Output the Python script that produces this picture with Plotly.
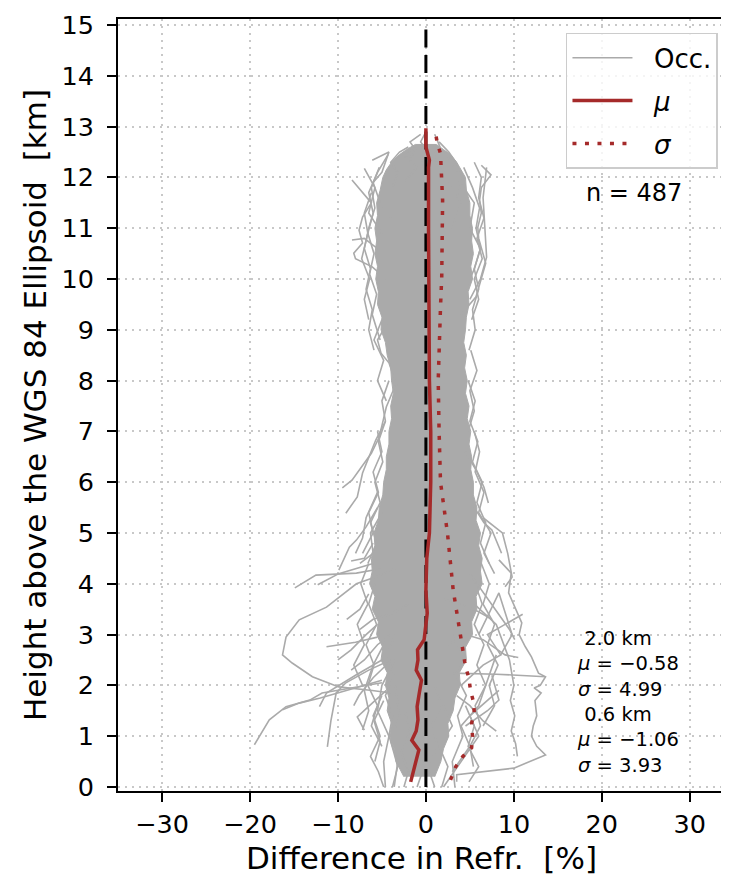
import plotly.graph_objects as go

# ---------------- data ----------------
# dense core of the occultation cloud (left / right envelope per height)
CORE_Y = [0.2, 0.5, 0.75, 1.0, 1.25, 1.5, 1.75, 2.0, 2.25, 2.5, 2.75, 3.0, 3.25, 3.5, 3.75, 4.0,
          4.25, 4.5, 4.75, 5.0, 5.25, 5.5, 5.75, 6.0, 6.25, 6.5, 6.75, 7.0, 7.25, 7.5, 7.75, 8.0,
          8.25, 8.5, 8.75, 9.0, 9.25, 9.5, 9.75, 10.0, 10.25, 10.5, 10.75, 11.0, 11.25, 11.5,
          11.75, 12.0, 12.15, 12.3, 12.45, 12.55, 12.65]
CORE_LEFT = [-2.5, -3.4, -3.6, -4.1, -3.9, -4.4, -4.2, -4.6, -4.4, -5.1, -4.9, -5.6, -5.4, -6.1, -5.8, -6.4,
             -6.1, -6.2, -5.8, -5.9, -5.4, -5.3, -4.9, -4.8, -4.5, -4.5, -4.2, -4.2, -3.9, -4.0, -3.7, -3.9,
             -4.0, -4.4, -4.6, -5.1, -5.0, -5.5, -5.4, -5.7, -5.5, -5.8, -5.6, -5.8, -5.5, -5.6,
             -5.2, -4.9, -4.5, -3.9, -3.0, -2.2, -1.2]
CORE_RIGHT = [1.0, 1.7, 2.0, 2.6, 2.5, 3.1, 3.3, 3.9, 3.8, 4.6, 4.5, 5.3, 5.2, 5.8, 5.7, 6.4,
              6.2, 6.4, 6.0, 6.2, 5.7, 5.8, 5.4, 5.4, 5.1, 5.2, 4.9, 5.1, 4.7, 4.9, 4.5, 4.7,
              4.4, 4.6, 4.3, 4.5, 4.6, 4.9, 4.8, 5.3, 5.1, 5.4, 5.2, 5.3, 5.0, 5.0,
              4.6, 4.5, 4.0, 3.5, 2.8, 2.0, 1.2]

# individual occultation profiles visible around the core: (x values, heights)
OCC_LINES = [
    ([-19.5, -17.8, -15.9, -13.2, -11.8, -9.9, -7.5, -5.0], [0.83, 1.32, 1.58, 1.71, 1.85, 1.91, 1.98, 2.05]),
    ([-3.5, -5.5, -7.9, -11.3, -14.4, -15.9, -16.3, -15.2, -12.9, -9.9, -6.1, -4.0],
     [4.3, 4.15, 4.0, 3.54, 3.29, 2.95, 2.6, 2.44, 2.17, 1.97, 1.9, 1.85]),
    ([-14.9, -12.5, -7.9, -5.0], [3.92, 4.17, 4.21, 4.3]),
    ([-12.3, -9.9, -6.0], [3.98, 4.2, 4.4]),
    ([-11.2, -10.8, -10.2, -9.1, -6.5, -4.0], [0.79, 1.3, 1.85, 2.05, 2.3, 2.5]),
    ([-12.1, -11.3, -8.0, -5.0], [1.58, 1.85, 2.2, 2.5]),
    ([-16.3, -14.4, -12.0, -8.0, -5.0], [1.52, 1.65, 1.75, 1.95, 2.1]),
    ([-7.0, -7.8, -6.1, -4.5], [1.12, 1.38, 1.65, 1.9]),
    ([-11.3, -8.0, -5.5], [2.76, 2.85, 2.95]),
    ([-9.5, -8.4, -6.2, -5.3, -4.5, -3.5], [5.89, 6.04, 6.57, 6.89, 7.48, 7.9]),
    ([-9.1, -7.8, -7.2, -5.7, -4.6], [5.39, 5.71, 6.18, 6.83, 7.2]),
    ([-9.9, -8.7, -7.9, -6.8, -5.5], [4.27, 4.72, 4.86, 5.12, 5.5]),
    ([-3.8, -5.5, -5.1, -4.2, -3.3], [9.3, 8.8, 8.54, 8.35, 7.9]),
    ([-8.4, -6.8, -6.2, -7.2, -7.6, -7.2, -8.2, -8.0, -6.1, -4.5],
     [11.95, 11.61, 11.5, 11.22, 10.96, 10.71, 10.51, 10.4, 10.24, 10.0]),
    ([-6.1, -4.2, -5.0, -6.0, -5.2, -4.0], [12.34, 12.5, 12.1, 11.9, 11.5, 11.2]),
    ([-7.0, -5.8, -6.5, -5.0], [12.18, 11.8, 11.3, 10.9]),
    ([-8.4, -7.0, -5.5], [10.77, 10.8, 10.6]),
    ([-8.0, -7.2, -6.8, -5.5], [4.6, 4.9, 5.3, 5.8]),
    ([-7.5, -6.0, -6.3, -5.0], [4.4, 4.6, 5.0, 5.4]),
    ([-8.5, -7.0, -6.0], [4.45, 4.5, 4.8]),
    ([-4.6, -4.8, -4.2, -5.5, -5.0, -3.5], [0.0, 0.5, 1.0, 1.5, 2.0, 2.5]),
    ([-3.8, -3.2, -4.0, -3.0, -3.5], [0.0, 0.4, 0.9, 1.4, 2.0]),
    ([-7.2, -6.5, -7.0, -6.0, -4.5], [1.12, 1.5, 1.9, 2.4, 2.9]),
    ([-5.8, -5.2, -5.9, -4.8], [0.5, 0.9, 1.3, 1.7]),
    ([-9.0, -7.5, -6.5], [3.3, 3.5, 3.8]),
    ([-10.0, -8.5, -6.8, -5.5], [2.5, 2.7, 3.0, 3.2]),
    ([-8.2, -7.6, -6.0, -4.5], [1.6, 1.8, 2.15, 2.4]),
    ([-2.5, -2.0, -2.8, -1.8, -2.4], [0.0, 0.3, 0.7, 1.1, 1.5]),
    ([8.3, 9.7, 9.4, 10.9, 10.6, 11.3, 12.0, 12.8, 13.6, 13.0, 12.3, 13.1, 12.4, 12.6, 12.2, 12.0, 12.6, 13.6, 10.0, 3.5, 3.5],
     [4.47, 4.21, 3.82, 3.23, 3.0, 2.76, 2.56, 2.24, 2.17, 2.0, 1.95, 1.85, 1.7, 1.4, 1.2, 1.0, 0.8, 0.63, 0.37, 0.24, 0.1]),
    ([3.0, 8.0, 13.6], [2.24, 2.22, 2.17]),
    ([5.5, 8.0, 9.5, 10.0, 9.6, 10.1, 9.7, 10.2, 10.4], [3.6, 3.2, 2.5, 2.0, 1.7, 1.4, 1.1, 0.85, 0.6]),
    ([5.0, 7.5, 9.5, 10.1], [4.2, 3.6, 3.1, 2.9]),
    ([6.5, 8.7, 9.3, 9.8, 9.0], [5.3, 5.0, 4.6, 4.13, 3.94]),
    ([5.5, 6.6, 7.5, 8.6], [5.5, 5.2, 5.06, 4.6]),
    ([4.5, 5.7, 6.6, 7.1], [6.6, 6.24, 5.9, 5.59]),
    ([4.0, 5.7, 6.8, 6.0, 5.9, 6.3, 6.1, 6.3, 7.4, 6.3],
     [9.3, 9.65, 10.31, 10.8, 11.02, 11.3, 11.55, 11.8, 12.05, 12.24]),
    ([6.9, 6.5, 6.9, 6.2, 5.0], [12.2, 11.6, 10.43, 10.0, 9.6]),
    ([3.5, 5.5, 5.0, 6.2, 5.5, 4.5], [12.0, 11.5, 11.0, 10.6, 10.2, 9.8]),
    ([2.0, 4.0, 6.0, 5.0, 7.0, 8.3], [0.0, 0.5, 1.0, 1.4, 1.7, 1.9]),
    ([1.8, 2.5, 1.5, 3.0, 2.0], [0.0, 0.4, 0.8, 1.2, 1.6]),
    ([3.0, 5.0, 4.0, 6.0, 8.0], [0.3, 0.8, 1.2, 1.6, 2.6]),
    ([4.0, 6.5, 8.5, 7.0, 9.0, 11.0], [2.0, 2.4, 2.6, 3.0, 3.2, 3.4]),
    ([6.0, 8.3, 9.8, 8.5], [3.0, 3.82, 3.0, 2.6]),
    ([4.5, 7.0, 8.3, 7.5], [1.2, 1.5, 1.71, 2.2]),
    ([2.5, 4.5, 6.5, 9.0, 10.5], [2.8, 3.0, 2.9, 2.6, 2.55]),
    ([0.0, -0.6, 0.3, -0.4, 0.5], [12.9, 12.7, 12.5, 12.3, 12.0]),
    ([1.0, 1.6, 0.8, 2.0], [12.85, 12.6, 12.4, 12.1]),
    ([-1.5, -2.3, -1.0, -2.5], [12.6, 12.4, 12.2, 11.9]),
    ([2.5, 3.5, 2.5, 4.0, 3.0], [12.4, 12.1, 11.9, 11.5, 11.0]),
    # fringe profiles hugging the edges of the core
    ([-5.9, -6.5, -6.1, -6.8, -6.3, -7.0, -6.5, -5.8, -6.2, -5.3], [8.6, 9.0, 9.4, 9.8, 10.2, 10.6, 11.0, 11.4, 11.8, 12.2]),
    ([-5.2, -6.1, -5.6, -6.4, -5.9, -6.6, -6.0, -6.5, -5.5, -4.3], [8.8, 9.3, 9.7, 10.1, 10.5, 10.9, 11.3, 11.7, 12.1, 12.45]),
    ([-6.5, -7.0, -6.4, -7.3, -6.6, -7.0, -6.2], [9.2, 9.6, 10.0, 10.4, 10.9, 11.3, 11.7]),
    ([-4.5, -5.5, -4.8, -5.9, -5.0], [7.6, 8.0, 8.4, 8.8, 9.2]),
    ([4.9, 5.6, 5.3, 6.0, 5.5, 6.2, 5.7, 6.1, 5.3, 4.3], [8.6, 9.0, 9.4, 9.8, 10.2, 10.6, 11.0, 11.4, 11.8, 12.2]),
    ([5.2, 6.0, 5.5, 6.4, 5.8, 6.6, 6.0, 6.3, 5.5], [9.2, 9.6, 10.0, 10.4, 10.8, 11.2, 11.6, 12.0, 12.3]),
    ([4.8, 5.5, 5.0, 5.8, 5.1], [7.0, 7.4, 7.8, 8.2, 8.6]),
    ([-3.8, -3.2, -4.0, -3.0, -2.0], [11.8, 12.1, 12.3, 12.5, 12.6]),
    ([3.5, 4.2, 3.4, 2.6, 1.5], [11.6, 12.0, 12.3, 12.5, 12.7]),
    ([-2.0, -1.2, -1.8, -0.6], [12.3, 12.55, 12.7, 12.85]),
    ([-4.2, -5.0, -4.6, -5.4, -4.9, -5.8, -5.2, -6.3, -5.6, -6.6], [8.0, 7.6, 7.2, 6.8, 6.4, 6.0, 5.6, 5.2, 4.8, 4.4]),
    ([-5.5, -5.0, -6.0, -5.4, -6.5, -6.0, -7.2], [7.0, 6.6, 6.2, 5.8, 5.4, 5.0, 4.6]),
    ([4.8, 5.6, 5.0, 5.9, 5.3, 6.4, 5.8, 6.8, 6.2, 7.2], [8.0, 7.6, 7.2, 6.8, 6.4, 6.0, 5.6, 5.2, 4.8, 4.4]),
    ([5.5, 6.1, 5.6, 6.6, 6.0, 7.4, 6.6, 7.8], [7.0, 6.6, 6.2, 5.8, 5.4, 5.0, 4.6, 4.2]),
    ([-6.5, -7.4, -6.6, -7.8, -7.0, -8.2, -7.2], [4.4, 4.0, 3.6, 3.2, 2.8, 2.4, 2.0]),
    ([-5.8, -6.5, -5.6, -6.8, -5.9, -6.6, -5.5, -6.2, -5.0], [4.0, 3.6, 3.2, 2.8, 2.4, 2.0, 1.6, 1.2, 0.8]),
    ([6.3, 7.2, 6.5, 7.8, 7.0, 8.2, 7.2, 7.8, 6.5], [4.4, 4.0, 3.6, 3.2, 2.8, 2.4, 2.0, 1.6, 1.2]),
    ([5.6, 6.4, 5.5, 6.6, 5.8, 6.8, 5.6, 6.2, 5.0, 5.4], [4.0, 3.6, 3.2, 2.8, 2.4, 2.0, 1.6, 1.2, 0.8, 0.4]),
    ([-3.5, -4.4, -3.6, -4.6, -3.8, -4.2, -3.2, -3.6], [3.0, 2.6, 2.2, 1.8, 1.4, 1.0, 0.5, 0.0]),
    ([3.0, 4.2, 3.4, 4.6, 3.6, 4.2, 3.0, 3.3], [3.0, 2.6, 2.2, 1.8, 1.4, 1.0, 0.5, 0.0]),
    ([-1.0, -0.2, -1.2, -0.4, -1.5, -0.8], [0.0, 0.4, 0.8, 1.2, 1.6, 2.0]),
    ([1.0, 0.2, 1.4, 0.6, 1.8, 1.0], [0.0, 0.4, 0.8, 1.2, 1.6, 2.0]),
    ([-5.0, -6.0, -5.2, -6.3, -5.4, -4.8], [1.8, 1.4, 1.0, 0.6, 0.3, 0.0]),
    ([4.5, 5.5, 4.8, 6.0, 4.9], [1.6, 1.2, 0.8, 0.4, 0.1]),
    ([-7.5, -6.0, -4.0, -2.0], [3.1, 3.3, 3.4, 3.6]),
    ([7.5, 6.0, 4.0, 2.0], [3.3, 3.45, 3.6, 3.7]),
    ([-8.5, -7.0, -5.5, -4.0], [2.3, 2.5, 2.8, 3.0]),
    ([8.0, 6.5, 5.0, 3.5], [1.1, 1.3, 1.6, 1.8]),
]

# mean and standard deviation profiles
MU_Y = [0.10, 0.40, 0.73, 0.92, 1.10, 1.32, 1.58, 1.85, 2.10, 2.30, 2.50, 2.70, 2.90, 3.42,
        3.88, 4.50, 5.00, 6.00, 7.00, 8.00, 9.60, 10.04, 11.00, 12.20, 12.34, 12.60, 12.97]
MU_X = [-1.73, -1.25, -0.80, -1.60, -1.10, -0.90, -1.00, -0.75, -0.50, -1.10, -0.90, -0.95, -0.20, 0.15,
        0.00, 0.10, 0.40, 0.55, 0.55, 0.40, 0.30, 0.30, 0.30, 0.30, 0.40, 0.00, 0.00]
SIG_Y = [0.14, 0.40, 0.60, 0.77, 1.00, 1.26, 1.46, 1.68, 1.91, 2.14, 2.37, 2.60, 2.86, 3.42,
         3.88, 5.00, 6.00, 7.00, 8.00, 9.45, 10.04, 11.55, 12.47, 12.67, 12.87]
SIG_X = [2.8, 3.4, 4.2, 5.2, 5.3, 5.2, 5.5, 5.4, 5.06, 4.9, 4.5, 4.3, 4.0, 3.5,
         3.1, 2.45, 1.66, 1.5, 1.4, 1.66, 1.8, 1.9, 1.66, 1.3, 1.1]

ZERO_X = [0, 0]
ZERO_Y = [0, 15]

N_OCC = 487
STATS = [("2.0 km", -0.58, 4.99), ("0.6 km", -1.06, 3.93)]

X_TICKS = [-30, -20, -10, 0, 10, 20, 30]
Y_TICKS = list(range(0, 16))

GRAY = "#aaaaaa"
BROWN = "#a52a2a"
FONT = "DejaVu Sans"
NBSP = "\u00a0"

fig = go.Figure()

# dense core as a filled region
fig.add_trace(go.Scatter(
    x=CORE_LEFT + CORE_RIGHT[::-1], y=CORE_Y + CORE_Y[::-1],
    fill="toself", fillcolor=GRAY, mode="lines", line=dict(width=1, color=GRAY),
    hoverinfo="skip", showlegend=False))

for i, (xs, ys) in enumerate(OCC_LINES):
    fig.add_trace(go.Scatter(
        x=xs, y=ys, mode="lines", line=dict(color=GRAY, width=1.6),
        name=NBSP * 2 + "Occ.", legendgroup="occ", showlegend=(i == 0), hoverinfo="skip"))

fig.add_trace(go.Scatter(x=ZERO_X, y=ZERO_Y, mode="lines",
                         line=dict(color="black", width=3, dash="18px,7.5px"),
                         showlegend=False, hoverinfo="skip"))
fig.add_trace(go.Scatter(x=MU_X, y=MU_Y, mode="lines", name=NBSP * 2 + "<i>μ</i>",
                         line=dict(color=BROWN, width=3.5)))
fig.add_trace(go.Scatter(x=SIG_X, y=SIG_Y, mode="lines", name=NBSP * 2 + "<i>σ</i>",
                         line=dict(color=BROWN, width=3.5, dash="4px,8.5px")))

# annotations
fig.add_annotation(x=23.7, y=11.69, xref="x", yref="y", text=f"n = {N_OCC}", showarrow=False,
                   font=dict(family=FONT, size=24, color="black"))
rows = []
for label, mu, sig in STATS:
    rows.append(NBSP + label)
    rows.append(f"<i>μ</i> = {mu:.2f}".replace("-", "−"))
    rows.append(f"<i>σ</i> = {sig:.2f}")
fig.add_annotation(x=16.9, y=1.68, xref="x", yref="y", text="<br>".join(rows), showarrow=False,
                   xanchor="left", yanchor="middle", align="left",
                   font=dict(family=FONT, size=19.5, color="black"))

axis_common = dict(
    showline=True, linecolor="black", linewidth=2, mirror=True,
    ticks="outside", ticklen=9, tickwidth=2, tickcolor="black",
    showgrid=True, gridcolor="#c8c8c8", gridwidth=1.5, griddash="2px,5px",
    zeroline=False, tickfont=dict(family=FONT, size=25.5, color="black"),
)

fig.update_xaxes(range=[-35, 34], tickvals=X_TICKS,
                 title=dict(text="Difference in Refr. " + NBSP + "[%]",
                            font=dict(family=FONT, size=31, color="black"), standoff=10),
                 **axis_common)
fig.update_yaxes(range=[-0.08, 15.12], tickvals=Y_TICKS, ticklabelstandoff=8,
                 title=dict(text="Height above the WGS 84 Ellipsoid " + NBSP + "[km]",
                            font=dict(family=FONT, size=31, color="black"), standoff=6),
                 **axis_common)

# the page body adds an 8 px offset, so the figure is drawn 8 px smaller
fig.update_layout(
    width=721, height=874,
    margin=dict(l=110, r=2, t=10, b=91, pad=0),
    plot_bgcolor="white", paper_bgcolor="white",
    font=dict(family=FONT, color="black"),
    legend=dict(x=0.738, y=0.982, xanchor="left", yanchor="top", itemwidth=60, tracegroupgap=6,
                bgcolor="rgba(255,255,255,0.8)", bordercolor="#cccccc", borderwidth=1.5,
                font=dict(family=FONT, size=26, color="black")),
)

fig.write_html("out.html")
